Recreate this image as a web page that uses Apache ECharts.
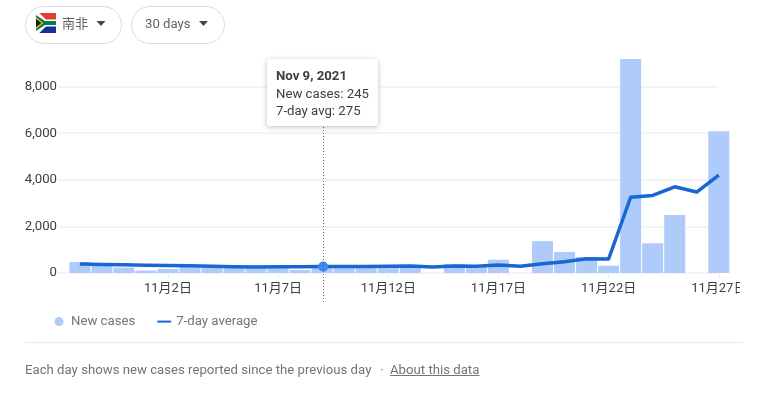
<!DOCTYPE html>
<html><head><meta charset="utf-8">
<style>html,body{margin:0;padding:0;background:#fff}#c{width:773px;height:393px}</style>
<script src="https://cdn.jsdelivr.net/npm/echarts@6/dist/echarts.min.js"></script>
</head><body><div id="c"></div>
<script>
const categories = ['10月29日','10月30日','10月31日','11月1日','11月2日','11月3日','11月4日','11月5日','11月6日','11月7日','11月8日','11月9日','11月10日','11月11日','11月12日','11月13日','11月14日','11月15日','11月16日','11月17日','11月18日','11月19日','11月20日','11月21日','11月22日','11月23日','11月24日','11月25日','11月26日','11月27日'];
const newCases = [470,400,235,105,170,360,300,320,320,280,125,245,280,270,340,350,0,390,340,570,0,1370,900,690,312,9185,1275,2490,0,6080];
const avg7 = [385,365,350,335,320,310,290,265,260,270,270,275,275,280,285,300,255,300,285,340,285,400,485,615,600,3250,3330,3700,3475,4200];
const yMax = 10000, yStep = 2000;
const activeIndex = 11;
const activeDate = 'Nov 9, 2021';
const FF = "Roboto, 'Noto Sans CJK SC', sans-serif";
const BAR = '#aecbfa', LINE = '#1967d2', TXT = '#3c4043', MUTED = '#70757a', GRID = '#f3f4f5';

const chart = echarts.init(document.getElementById('c'), null, {renderer:'canvas'});
const labelEvery = (i) => (i - 4) % 5 === 0;
const T = (x,y,text,o={}) => ({type:'text',x,y,z:o.z||10,style:Object.assign({text,fill:MUTED,font:"13.2px "+FF,textVerticalAlign:'middle'},o.style||{})});
const poly = (pts,fill,z=11) => ({type:'polygon',z,shape:{points:pts},style:{fill}});

chart.setOption({
  animation:false,
  backgroundColor:'#fff',
  textStyle:{fontFamily:FF},
  grid:[
    {left:58,width:660,top:40,height:233},
    {left:68.8,width:661,top:40,height:233}
  ],
  legend:{
    left:54.5,top:315,itemWidth:14,itemHeight:9,itemGap:21,itemTextGap:4,padding:0,
    selectedMode:false,
    textStyle:{color:MUTED,fontSize:13.2,fontFamily:FF},
    lineStyle:{width:2},
    data:[{name:'New cases',icon:'circle'},{name:'7-day average',itemStyle:{opacity:0}}]
  },
  xAxis:[
    {type:'value',gridIndex:0,min:0,max:1,show:true,axisLabel:{show:false},axisTick:{show:false},splitLine:{show:false},
      axisLine:{show:true,lineStyle:{color:GRID,width:2}}},
    {type:'category',gridIndex:1,data:categories,boundaryGap:true,
      axisLine:{show:false},
      axisTick:{show:true,alignWithLabel:true,interval:labelEvery,length:5,lineStyle:{color:'#eceef0'}},
      axisLabel:{interval:labelEvery,color:TXT,fontSize:13,fontFamily:FF,margin:9,hideOverlap:false},
      splitLine:{show:false}}
  ],
  yAxis:[
    {type:'value',gridIndex:0,min:0,max:yMax,interval:yStep,axisLine:{show:false},axisTick:{show:false},
      axisLabel:{color:TXT,fontSize:13.2,fontFamily:FF,margin:1,showMaxLabel:false,padding:[2,0,0,0],
        formatter:v=>v.toLocaleString('en-US')},
      splitLine:{show:true,showMaxLine:false,lineStyle:{color:GRID,width:2}}},
    {type:'value',gridIndex:1,min:0,max:yMax,interval:yStep,show:false,splitLine:{show:false}}
  ],
  series:[
    {name:'New cases',type:'bar',xAxisIndex:1,yAxisIndex:1,data:newCases,barWidth:21,barGap:0,
      itemStyle:{color:BAR},silent:true,z:2},
    {name:'7-day average',type:'line',xAxisIndex:1,yAxisIndex:1,data:avg7,showSymbol:false,symbol:'none',
      lineStyle:{color:LINE,width:3.5,cap:'butt',join:'round'},itemStyle:{color:LINE},silent:true,z:3,
      markPoint:{silent:true,symbol:'circle',symbolSize:10,symbolOffset:[1,0],itemStyle:{color:'#4285f4'},label:{show:false},
        data:[{coord:[activeIndex,avg7[activeIndex]]}]}}
  ]
});

const px = chart.convertToPixel({xAxisIndex:1},activeIndex);
const fx=36, fy=13, S=20;
const P = (a,b)=>[fx+a*S/60,fy+b*S/60];
chart.setOption({graphic:[
  // chips
  {type:'rect',z:10,shape:{x:25.5,y:6.5,width:96,height:37,r:18.5},style:{fill:'#fff',stroke:'#dadce0',lineWidth:1}},
  {type:'rect',z:10,shape:{x:131.5,y:6.5,width:93,height:37,r:18.5},style:{fill:'#fff',stroke:'#dadce0',lineWidth:1}},
  poly([P(0,0),P(60,0),P(60,20),P(0,20)],'#e0402f'),
  poly([P(0,40),P(60,40),P(60,60),P(0,60)],'#1a2f96'),
  poly([P(0,0),P(10,0),P(30,20),P(60,20),P(60,40),P(30,40),P(10,60),P(0,60)],'#ffffff',12),
  poly([P(0,6),P(27,24),P(60,24),P(60,36),P(27,36),P(0,54)],'#00804f',13),
  poly([P(0,12),P(22,30),P(0,48)],'#f5b81c',14),
  poly([P(0,17),P(16,30),P(0,43)],'#1a1a1a',15),
  T(62,25,'南非',{style:{fill:'#5f6368',font:"13px "+FF}}),
  poly([[96.5,21],[105.5,21],[101,26]],'#444746'),
  T(145,25,'30 days',{style:{fill:'#5f6368'}}),
  poly([[199,21],[208,21],[203.5,26]],'#444746'),
  // hover guide
  {type:'line',z:8,shape:{x1:Math.round(px)+1.5,y1:127,x2:Math.round(px)+1.5,y2:304},style:{stroke:'#5f6368',lineWidth:1,lineDash:[1,2]}},
  // tooltip
  {type:'rect',z:20,shape:{x:267,y:59,width:111,height:67,r:3},
    style:{fill:'#fff',shadowBlur:5,shadowColor:'rgba(60,64,67,0.35)',shadowOffsetY:1}},
  T(276,76.5,activeDate,{z:21,style:{fill:TXT,font:"bold 13.2px "+FF}}),
  T(276,95,'New cases: '+newCases[activeIndex],{z:21,style:{fill:TXT}}),
  T(276,112,'7-day avg: '+avg7[activeIndex],{z:21,style:{fill:TXT}}),
  // footer
  {type:'line',z:5,shape:{x1:25,y1:342.5,x2:743,y2:342.5},style:{stroke:'#e8eaed',lineWidth:1}},
  T(25,370.5,'Each day shows new cases reported since the previous day',{}),
  T(380,370.5,'·',{}),
  T(390,370.5,'About this data',{}),
  {type:'line',z:5,shape:{x1:390,y1:375.5,x2:479.5,y2:375.5},style:{stroke:MUTED,lineWidth:1}},
  // the last tick label runs past the card edge and is cut off there
  {type:'rect',z:30,shape:{x:740,y:276,width:33,height:24},style:{fill:'#fff'}}
]});
</script></body></html>
